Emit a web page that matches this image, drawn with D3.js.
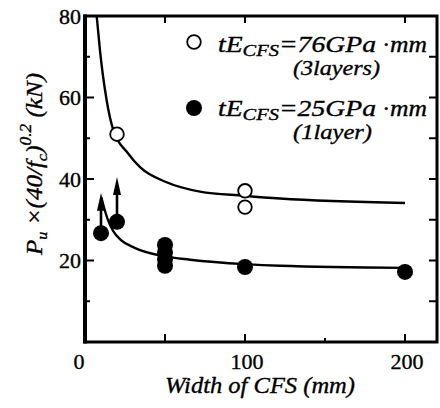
<!DOCTYPE html>
<html>
<head>
<meta charset="utf-8">
<script src="https://cdn.jsdelivr.net/npm/d3@7"></script>
<style>
  html, body { margin: 0; padding: 0; background: #fff; }
  svg { display: block; }
  text { font-family: "Liberation Serif", "Times New Roman", serif; fill: #000; stroke: #000; stroke-width: 0.35; }
</style>
</head>
<body>
<svg id="chart" width="440" height="408"></svg>
<script>
// Test results: width of CFS (mm) vs normalised ultimate load (kN)
const openWidth   = [20, 100, 100];
const openLoad    = [51.0, 37.1, 33.1];

const filledWidth = [10, 20, 50, 50, 50, 50, 100, 200];
const filledLoad  = [26.7, 29.5, 23.8, 22.0, 20.3, 18.7, 18.4, 17.2];

// specimens whose load is a lower bound (arrow points upward)
const arrowWidth = [10, 20];
const arrowFrom  = [26.7, 29.5];
const arrowTo    = [36.6, 40.5];

// trend curves
const upperCurveWidth = [7.3, 9.4, 13.5, 17.7, 26.7, 34.4, 51.0, 71.9, 99.4, 121.9, 200];
const upperCurveLoad  = [80, 71.4, 59.4, 52.0, 46.4, 42.9, 39.2, 36.9, 35.9, 35.2, 34.1];
const lowerCurveWidth = [10.2, 11.2, 14.4, 17.5, 22.5, 31, 50, 65.6, 100, 122, 200];
const lowerCurveLoad  = [35.5, 34.0, 29.9, 27.3, 25.0, 23.1, 21.0, 20.2, 19.1, 18.7, 18.2];

const xTicks = [0, 100, 200];
const yTicks = [20, 40, 60, 80];

const svg = d3.select("#chart");
const x = d3.scaleLinear().domain([0, 220]).range([85, 437]);
const y = d3.scaleLinear().domain([0, 80]).range([342, 16]);

// clip curves to the plotting frame
svg.append("clipPath").attr("id", "frame")
  .append("rect").attr("x", x(0)).attr("y", y(80)).attr("width", x(220) - x(0)).attr("height", y(0) - y(80));

const line = d3.line().x(d => x(d[0])).y(d => y(d[1])).curve(d3.curveMonotoneX);
const plot = svg.append("g").attr("clip-path", "url(#frame)");

plot.append("path")
  .datum(upperCurveWidth.map((w, i) => [w, upperCurveLoad[i]]))
  .attr("d", line).attr("fill", "none").attr("stroke", "#000").attr("stroke-width", 2.4);
plot.append("path")
  .datum(lowerCurveWidth.map((w, i) => [w, lowerCurveLoad[i]]))
  .attr("d", line).attr("fill", "none").attr("stroke", "#000").attr("stroke-width", 2.4);

// arrows
arrowWidth.forEach((w, i) => {
  const cx = x(w), y0 = y(arrowFrom[i]), yt = y(arrowTo[i]);
  svg.append("line").attr("x1", cx).attr("x2", cx).attr("y1", y0).attr("y2", yt + 12)
    .attr("stroke", "#000").attr("stroke-width", 2.6);
  svg.append("path")
    .attr("d", `M${cx},${yt} L${cx - 4},${yt + 18} L${cx + 4},${yt + 18} Z`)
    .attr("fill", "#000");
});

// points
svg.append("g").selectAll("circle")
  .data(filledWidth.map((w, i) => [w, filledLoad[i]]))
  .join("circle")
  .attr("cx", d => x(d[0])).attr("cy", d => y(d[1])).attr("r", 8).attr("fill", "#000");

svg.append("g").selectAll("circle")
  .data(openWidth.map((w, i) => [w, openLoad[i]]))
  .join("circle")
  .attr("cx", d => x(d[0])).attr("cy", d => y(d[1])).attr("r", 6.8)
  .attr("fill", "#fff").attr("stroke", "#000").attr("stroke-width", 1.8);

// frame ticks (inward)
const tickG = svg.append("g").attr("stroke", "#000").attr("stroke-width", 2);
d3.range(10, 80, 10).forEach(v => {
  const major = v % 20 === 0;
  tickG.append("line").attr("x1", x(0)).attr("x2", x(0) + (major ? 9 : 5)).attr("y1", y(v)).attr("y2", y(v));
  tickG.append("line").attr("x1", x(220)).attr("x2", x(220) - 8).attr("y1", y(v)).attr("y2", y(v));
});
[50, 100, 150, 200].forEach(v => {
  tickG.append("line").attr("x1", x(v)).attr("x2", x(v)).attr("y1", y(0)).attr("y2", y(0) - (v === 150 ? 4 : 8));
});
[50, 100, 200].forEach(v => {
  tickG.append("line").attr("x1", x(v)).attr("x2", x(v)).attr("y1", y(80)).attr("y2", y(80) + 7);
});

// frame
svg.append("rect").attr("x", x(0)).attr("y", y(80)).attr("width", x(220) - x(0)).attr("height", y(0) - y(80))
  .attr("fill", "none").attr("stroke", "#000").attr("stroke-width", 3);
svg.append("line").attr("x1", x(0)).attr("x2", x(0)).attr("y1", y(80) - 1.5).attr("y2", y(0) + 1.5)
  .attr("stroke", "#000").attr("stroke-width", 4);

// tick labels
svg.append("g").selectAll("text").data(yTicks).join("text")
  .attr("x", 81).attr("y", d => y(d)).attr("dy", "0.35em").attr("text-anchor", "end")
  .attr("font-size", 22).text(d => d);
svg.append("g").selectAll("text").data(xTicks).join("text")
  .attr("x", d => d === 0 ? x(d) - 6 : x(d) + 2).attr("y", 369).attr("text-anchor", "middle")
  .attr("font-size", 22).text(d => d);

// axis titles
svg.append("text").attr("x", 165).attr("y", 393)
  .attr("font-size", 23).attr("font-style", "italic")
  .attr("textLength", 190).attr("lengthAdjust", "spacingAndGlyphs")
  .text("Width of CFS (mm)");

const yt = svg.append("text").attr("transform", "translate(42,255) rotate(-90)")
  .attr("font-size", 23).attr("font-style", "italic")
  .attr("textLength", 182).attr("lengthAdjust", "spacingAndGlyphs");
yt.append("tspan").text("P");
yt.append("tspan").attr("font-size", 15).attr("dy", 5).text("u");
yt.append("tspan").attr("dy", -5).text(" \u00D7(40/");
yt.append("tspan").text("f");
yt.append("tspan").attr("font-size", 15).attr("dy", 5).text("c");
yt.append("tspan").attr("dy", -5).text(")");
yt.append("tspan").attr("font-size", 16).attr("dy", -11).text("0.2");
yt.append("tspan").attr("dy", 11).text(" (kN)");

// legend
svg.append("circle").attr("cx", 194).attr("cy", 42).attr("r", 6.8)
  .attr("fill", "#fff").attr("stroke", "#000").attr("stroke-width", 1.8);
svg.append("circle").attr("cx", 194).attr("cy", 108).attr("r", 8).attr("fill", "#000");

function legendLabel(yBase, value, note, noteWidth) {
  const t = svg.append("text").attr("x", 218).attr("y", yBase)
    .attr("font-size", 23).attr("font-style", "italic")
    .attr("textLength", 158).attr("lengthAdjust", "spacingAndGlyphs");
  t.append("tspan").text("tE");
  t.append("tspan").attr("font-size", 17).attr("dy", 4).text("CFS");
  t.append("tspan").attr("dy", -4).text("=" + value + "GPa");
  svg.append("text").attr("x", 383).attr("y", yBase)
    .attr("font-size", 23).attr("font-style", "italic").text("\u00B7");
  svg.append("text").attr("x", 390).attr("y", yBase)
    .attr("font-size", 23).attr("font-style", "italic")
    .attr("textLength", 37).attr("lengthAdjust", "spacingAndGlyphs").text("mm");
  svg.append("text").attr("x", 293).attr("y", yBase + 23)
    .attr("font-size", 22).attr("font-style", "italic")
    .attr("textLength", noteWidth).attr("lengthAdjust", "spacingAndGlyphs").text(note);
}
legendLabel(52, 76, "(3layers)", 87);
legendLabel(116, 25, "(1layer)", 79);
</script>
</body>
</html>
